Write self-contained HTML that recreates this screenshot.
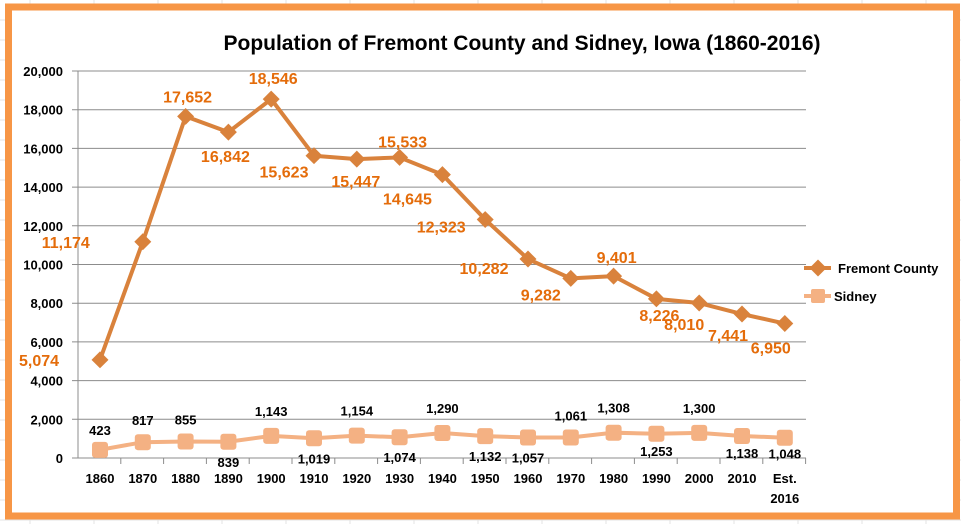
<!DOCTYPE html>
<html><head><meta charset="utf-8"><style>
body{margin:0;background:#fff;}
svg{display:block;font-family:"Liberation Sans",Arial,sans-serif;font-weight:bold;}
</style></head><body>
<svg id="chart" width="961" height="524" viewBox="0 0 961 524" xmlns="http://www.w3.org/2000/svg">
<g id="bggrid" stroke="#e3e3e3" stroke-width="1"></g>
<rect x="8.5" y="7" width="948" height="509" fill="#fff" stroke="#F79646" stroke-width="7"/>
<text x="522" y="50" text-anchor="middle" font-size="21" fill="#000">Population of Fremont County and Sidney, Iowa (1860-2016)</text>
<g id="axes"></g>
<g id="series"></g>
<g>
 <g>
  <line x1="804" y1="268" x2="831" y2="268" stroke="#D9823C" stroke-width="4"/>
  <rect x="812" y="262" width="12" height="12" fill="#D9823C" transform="rotate(45 818 268)"/>
  <text x="838" y="273" font-size="13" fill="#000">Fremont County</text>
 </g>
 <g>
  <line x1="804" y1="296" x2="831" y2="296" stroke="#F4B183" stroke-width="4"/>
  <rect x="811" y="289" width="14" height="14" rx="2" fill="#F4B183"/>
  <text x="834" y="301" font-size="13" fill="#000">Sidney</text>
 </g>
</g>
</svg>
<script>
const categories=["1860","1870","1880","1890","1900","1910","1920","1930","1940","1950","1960","1970","1980","1990","2000","2010","Est. 2016"];
const fremont=[5074,11174,17652,16842,18546,15623,15447,15533,14645,12323,10282,9282,9401,8226,8010,7441,6950];
const sidney=[423,817,855,839,1143,1019,1154,1074,1290,1132,1057,1061,1308,1253,1300,1138,1048];
const yTicks=[0,2000,4000,6000,8000,10000,12000,14000,16000,18000,20000];
const fLabelDx=[-61,-77,2,-3,2,-30,-1,3,-35,-44,-44,-30,3,3,-15,-14,-14];
const fLabelDy=[6,6,-14,30,-15,22,28,-10,30,13,15,22,-13,22,27,27,30];
const sLabelDy=[-15,-17,-17,25,-20,25,-20,25,-20,25,25,-17,-20,22,-20,22,21];
const NS="http://www.w3.org/2000/svg";
const x0=100,dx=42.8,yBase=458,yTop=71,yMax=20000,plotL=78,plotR=806;
const X=i=>x0+i*dx;
const Y=v=>yBase-(v/yMax)*(yBase-yTop);
function mk(t,a,p){const e=document.createElementNS(NS,t);for(const k in a)e.setAttribute(k,a[k]);p.appendChild(e);return e;}
const bg=document.getElementById('bggrid');
for(let x=30;x<961;x+=64){mk('line',{x1:x,y1:0,x2:x,y2:524},bg);}
for(let y=20;y<524;y+=20){mk('line',{x1:0,y1:y,x2:961,y2:y},bg);}
const ax=document.getElementById('axes');
yTicks.forEach(v=>{
 const g=mk('line',{x1:plotL-6,y1:Y(v),x2:plotR,y2:Y(v),stroke:'#8c8c8c','stroke-width':1},ax);
 
 
 const t=mk('text',{x:63,y:Y(v)+5,'text-anchor':'end','font-size':13,fill:'#000'},ax);
 
 
 t.textContent=v.toLocaleString('en-US');
});
mk('line',{x1:plotL,y1:yTop,x2:plotL,y2:yBase,stroke:'#8c8c8c'},ax);
categories.forEach((c,i)=>{
 mk('line',{x1:plotL+i*dx+dx,y1:yBase,x2:plotL+i*dx+dx,y2:yBase+6,stroke:'#8c8c8c'},ax);
 const parts=c.split(' ');
 parts.forEach((p,j)=>{
  const t=mk('text',{x:X(i),y:483+j*20,'text-anchor':'middle','font-size':13,fill:'#000'},ax);
  
  
  t.textContent=p;
 });
});
const s=document.getElementById('series');
const fp=fremont.map((v,i)=>X(i)+','+Y(v)).join(' ');
const fl=mk('polyline',{points:fp,fill:'none',stroke:'#D9823C','stroke-width':4,'stroke-linejoin':'round'},s);


const sp=sidney.map((v,i)=>X(i)+','+Y(v)).join(' ');
const sl=mk('polyline',{points:sp,fill:'none',stroke:'#F4B183','stroke-width':4},s);


fremont.forEach((v,i)=>{
 const r=mk('rect',{x:X(i)-6,y:Y(v)-6,width:12,height:12,fill:'#D9823C',transform:`rotate(45 ${X(i)} ${Y(v)})`},s);
 
 
 const t=mk('text',{x:X(i)+fLabelDx[i],y:Y(v)+fLabelDy[i],'text-anchor':'middle','font-size':16,fill:'#E46C0A'},s);
 
 
 t.textContent=v.toLocaleString('en-US');
});
sidney.forEach((v,i)=>{
 const r=mk('rect',{x:X(i)-8,y:Y(v)-8,width:16,height:16,rx:3,fill:'#F4B183'},s);
 
 
 const t=mk('text',{x:X(i),y:Y(v)+sLabelDy[i],'text-anchor':'middle','font-size':13,fill:'#000'},s);
 
 
 t.textContent=v.toLocaleString('en-US');
});
</script>
</body></html>
